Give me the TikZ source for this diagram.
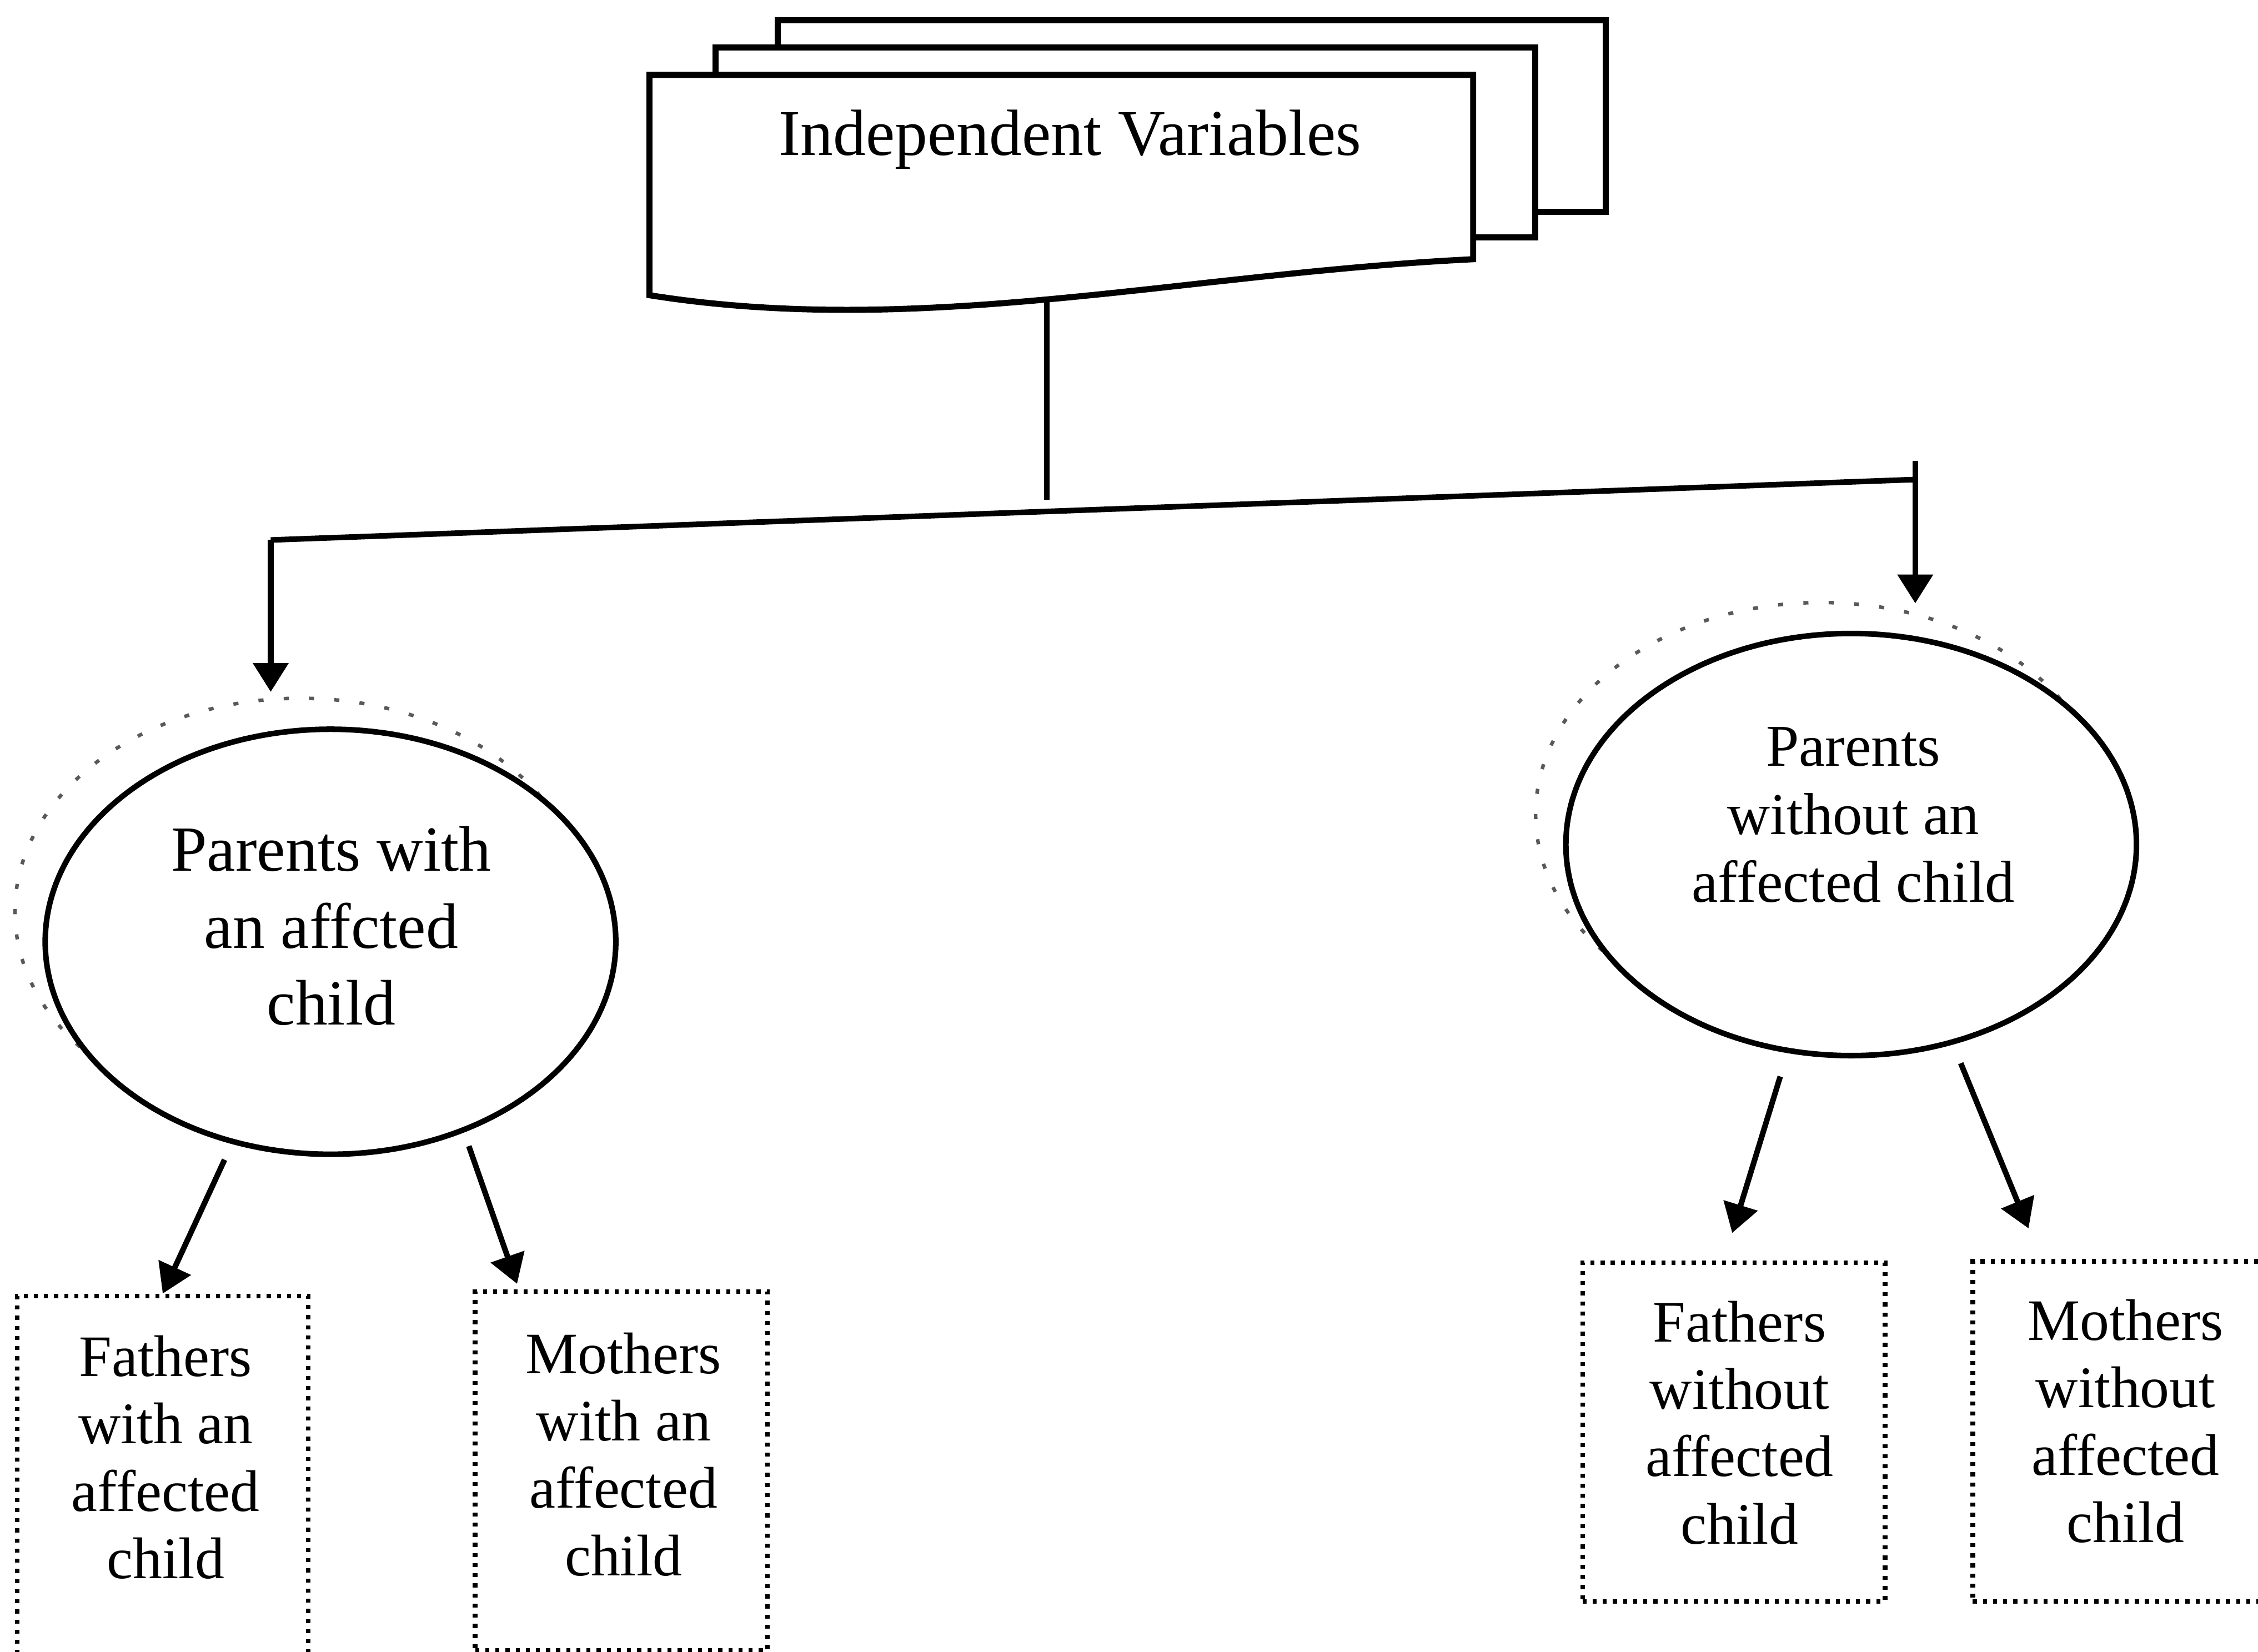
\documentclass[tikz,border=0pt]{standalone}
\usepackage{fontspec}
\setmainfont{Liberation Serif}
\usetikzlibrary{arrows.meta,shapes.geometric,positioning}

\tikzset{
  conn/.style={line width=1.1pt},
  arr/.style={conn, -{Triangle[length=2mm,width=2.4mm]}},
  docpage/.style={draw, fill=white, line width=1.2pt},
  parent/.style={draw, ellipse, fill=white, line width=1.1pt, inner sep=0pt,
    minimum width=3.96cm, minimum height=2.95cm},
  pshadow/.style={draw=black!65, line width=0.7pt, dash pattern=on 1pt off 4pt},
  group/.style={draw, line width=0.9pt, dash pattern=on 0.8pt off 1.2pt, inner sep=0pt},
  ptext/.style={align=center},
  btext/.style={align=center, font=\fontsize{11.6}{13.3}\selectfont},
}

\begin{document}
\begin{tikzpicture}[x=0.01cm, y=-0.01cm]
  \useasboundingbox (0,0) rectangle (1568,1147);

  % stacked documents
  \draw[docpage] (540,14) rectangle (1115,147);
  \draw[docpage] (497,33) rectangle (1066,165);
  \draw[docpage] (451,205) -- (451,52) -- (1023,52) -- (1023,180)
    .. controls (820,190) and (640,235) .. cycle;
  \node[font=\fontsize{12.9}{15}\selectfont] (indep) at (743,97) {Independent Variables};
  \coordinate (docb) at (727,207);

  % branching
  \coordinate (jm) at (727,347);
  \coordinate (jl) at (188,375);
  \coordinate (jr) at (1330,333);
  \coordinate (jtop) at (1330,320);

  % parent groups
  \coordinate (lc) at (229.5,654);
  \coordinate (rc) at (1285.5,586.5);
  \draw[pshadow] ([shift={(-21,-21)}]lc) ellipse [x radius=1.98cm, y radius=1.48cm];
  \draw[pshadow] ([shift={(-21,-21)}]rc) ellipse [x radius=1.98cm, y radius=1.47cm];
  \node[parent] (lpar) at (lc) {};
  \node[parent, minimum height=2.93cm] (rpar) at (rc) {};
  \node[ptext, font=\fontsize{12.7}{15.2}\selectfont] (lpartxt) at (230,643)
    {Parents with\\an affcted\\child};
  \node[ptext, font=\fontsize{11.7}{13.4}\selectfont] (rpartxt) at (1287,566)
    {Parents\\without an\\affected child};

  % subgroups
  \node[group, minimum width=2.02cm, minimum height=2.50cm] (fwa) at (113,1025) {};
  \node[group, minimum width=2.03cm, minimum height=2.49cm] (mwa) at (431.5,1021.5) {};
  \node[group, minimum width=2.10cm, minimum height=2.35cm] (fwo) at (1204,994.5) {};
  \node[group, minimum width=2.20cm, minimum height=2.36cm] (mwo) at (1480,994) {};
  \node[btext] (fwatxt) at (115,1012) {Fathers\\with an\\affected\\child};
  \node[btext] (mwatxt) at (433,1010) {Mothers\\with an\\affected\\child};
  \node[btext] (fwotxt) at (1208,988) {Fathers\\without\\affected\\child};
  \node[btext] (mwotxt) at (1476,987) {Mothers\\without\\affected\\child};

  % connectors
  \draw[conn] (docb) -- (jm);
  \draw[conn] (jl) -- (jr);
  \draw[arr, shorten >=0.24cm] (jl) -- (jl |- lpar.north);
  \draw[arr, shorten >=0.19cm] (jtop) -- (jtop |- rpar.north);
  \draw[arr, shorten <=0.12cm] (lpar.244) -- (fwa.north);
  \draw[arr, shorten <=0.10cm, shorten >=0.04cm] (lpar.305) -- ([xshift=0.32cm]mwa.north west);
  \draw[arr, shorten <=0.17cm, shorten >=0.20cm] (rpar.253) -- ([xshift=-0.07cm]fwo.north);
  \draw[arr, shorten <=0.14cm, shorten >=0.23cm] (rpar.297) -- ([xshift=0.49cm]mwo.north west);
\end{tikzpicture}
\end{document}
